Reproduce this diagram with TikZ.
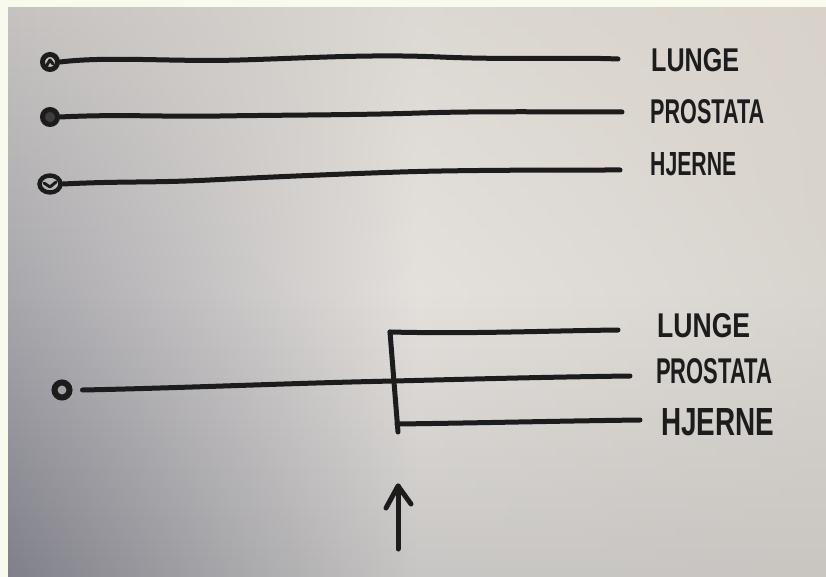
\documentclass[tikz,border=0pt]{standalone}
\usepackage{fontspec}
\setmainfont{Liberation Sans}
\usepackage{graphicx}
\usetikzlibrary{shapes.geometric}
\definecolor{frame}{HTML}{F9FAEE}
\definecolor{tL}{HTML}{C5C2C0}\definecolor{tM}{HTML}{DCD8D2}\definecolor{tR}{HTML}{D8D2CA}
\definecolor{mL}{HTML}{A8A7AC}\definecolor{mM}{HTML}{E4E0DC}\definecolor{mR}{HTML}{D8D4CE}
\definecolor{bL}{HTML}{80808A}\definecolor{bM}{HTML}{C8C6C4}\definecolor{bR}{HTML}{C9C5C1}
\definecolor{ink}{HTML}{1C1C1C}
\begin{document}
\begin{tikzpicture}[x=1pt,y=-1pt,
  pen/.style={draw=ink,line width=5pt,line cap=round,line join=round},
  dot/.style={circle,draw=ink,line width=5pt,inner sep=0pt,minimum size=15pt},
  lbl/.style={anchor=west,inner sep=0pt,text=ink,font=\bfseries}]
\useasboundingbox (0,0) rectangle (826,577);
\fill[frame] (0,0) rectangle (826,577);
% paper background
\foreach \i in {0,...,56} {
  \pgfmathsetmacro\ya{8+\i*10}
  \pgfmathsetmacro\yb{\ya+11}
  \ifnum\i<28
    \pgfmathtruncatemacro\p{100-\i*100/28}
    \colorlet{cL}{tL!\p!mL}\colorlet{cM}{tM!\p!mM}\colorlet{cR}{tR!\p!mR}
  \else
    \pgfmathtruncatemacro\p{100-(\i-28)*100/28}
    \colorlet{cL}{mL!\p!bL}\colorlet{cM}{mM!\p!bM}\colorlet{cR}{mR!\p!bR}
  \fi
  \shade[left color=cL,right color=cR,middle color=cM] (8,\ya) rectangle (826,\yb);
}
% ---- top group ----
\node[dot] (c1) at (50,62) {};
\node[dot,fill=ink!85] (c2) at (50,117) {};
\node[dot,ellipse,minimum width=21pt,minimum height=17pt,line width=4.4pt] (c3) at (50,184) {};
\draw[pen,line width=3pt] (c1.center) +(-3,3) -- +(0,-2) -- +(3,2);
\draw[pen,line width=3pt] (c3.center) +(-6,-1) -- +(0,3) -- +(6,-2);

\coordinate (m1a) at (240,60);
\coordinate (m1b) at (440,57);
\coordinate (e1) at (618,59);
\coordinate (m2a) at (220,116);
\coordinate (m2b) at (420,113);
\coordinate (e2) at (622,112);
\coordinate (m3a) at (210,180);
\coordinate (m3b) at (400,172);
\coordinate (e3) at (620,170);

\draw[pen] (c1.east) .. controls +(50,-6) and +(-70,2) .. (m1a)
  .. controls +(70,-2) and +(-70,-3) .. (m1b)
  .. controls +(70,3) and +(-50,-2) .. (e1);
\draw[pen] (c2.east) .. controls +(60,-3) and +(-60,1) .. (m2a)
  .. controls +(60,-1) and +(-60,2) .. (m2b)
  .. controls +(60,-2) and +(-60,0) .. (e2);
\draw[pen] (c3.east) .. controls +(60,-3) and +(-60,3) .. (m3a)
  .. controls +(60,-3) and +(-60,2) .. (m3b)
  .. controls +(60,-2) and +(-60,0) .. (e3);

\node[lbl] (l1) at (651,60) {\resizebox{88pt}{23pt}{LUNGE}};
\node[lbl] (l2) at (650,112) {\resizebox{114pt}{24pt}{PROSTATA}};
\node[lbl] (l3) at (650,164) {\resizebox{86pt}{23pt}{HJERNE}};

% ---- bottom group ----
\node[dot,minimum size=15pt,line width=6pt] (c4) at (62,390) {};
\coordinate (j2) at (394,381);
\coordinate (jt) at (390,332);
\coordinate (jb) at (398,432);
\coordinate (jb2) at (397,424);
\coordinate (e4) at (618,330);
\coordinate (e5) at (630,376);
\coordinate (e6) at (640,420);

\draw[pen] (c4.east) ++(10,0) .. controls +(100,-2) and +(-100,2) .. (j2)
  .. controls +(80,-2) and +(-80,1) .. (e5);
\draw[pen] (jt) -- (jb);
\draw[pen] (jt) .. controls +(80,2) and +(-80,1) .. (e4);
\draw[pen] (jb2) .. controls +(80,-1) and +(-80,1) .. (e6);

\node[lbl] (l4) at (657,326) {\resizebox{93pt}{24pt}{LUNGE}};
\node[lbl] (l5) at (656,371) {\resizebox{116pt}{25pt}{PROSTATA}};
\node[lbl] (l6) at (661,422) {\resizebox{113pt}{27pt}{HJERNE}};

% ---- arrow ----
\coordinate (a0) at (398,549);
\coordinate (a1) at (398,486);
\draw[pen] (a0) -- (a1);
\draw[pen] (a1) ++(-12,22) -- (a1) -- ++(13,18);
\end{tikzpicture}
\end{document}
